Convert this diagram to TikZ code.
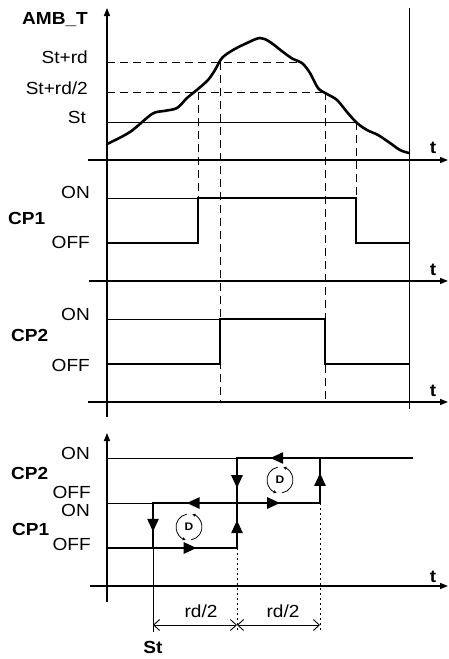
\documentclass[tikz,border=0pt]{standalone}
\usepackage{fontspec}
\setmainfont{Liberation Sans}[FakeStretch=1.09]
\usetikzlibrary{arrows.meta,decorations.markings}
\begin{document}
\begin{tikzpicture}[x=1pt,y=-1pt,
  axis/.style={line width=1.5pt},
  axarrow/.style={axis,-{Triangle[length=8pt,width=6pt]}},
  thinln/.style={line width=0.6pt},
  sig/.style={line width=2.6pt,line cap=rect},
  dashv/.style={line width=0.8pt,dash pattern=on 8pt off 5pt},
  dotv/.style={line width=0.8pt,dash pattern=on 2pt off 3pt},
  lbl/.style={font=\fontsize{17.5}{17.5}\selectfont,anchor=east,inner sep=0pt},
  blbl/.style={font=\bfseries\fontsize{17.5}{17.5}\selectfont,inner sep=0pt},
  tlbl/.style={font=\bfseries\fontsize{17.5}{17.5}\selectfont,inner sep=0pt},
  marr/.style={postaction={decorate},decoration={markings,
     mark=at position #1 with {\arrow{Triangle[length=13pt,width=11pt]}}}},
  dim/.style={line width=0.9pt,{Straight Barb[length=6pt,width=11pt]}-{Straight Barb[length=6pt,width=11pt]}},
  dtxt/.style={font=\bfseries\fontsize{11}{11}\selectfont,inner sep=0pt},
  darc/.style={line width=0.8pt,-{Triangle[length=3pt,width=3pt]}}
]
\useasboundingbox (0,0) rectangle (448,659);

% ---------- axes ----------
\coordinate (yTop) at (107,8);
\coordinate (yBot) at (107,417);
\coordinate (rTop) at (409,8);
\coordinate (rBot) at (409,409);
\draw[axarrow] (yBot) -- (yTop);
\draw[thinln] (rTop) -- (rBot);
\coordinate (a1l) at (88,160);  \coordinate (a1r) at (448,160);
\coordinate (a2l) at (89,281);  \coordinate (a2r) at (448,281);
\coordinate (a3l) at (88,402);  \coordinate (a3r) at (448,402);
\draw[axarrow] (a1l) -- (a1r);
\draw[axarrow] (a2l) -- (a2r);
\draw[axarrow] (a3l) -- (a3r);
\node[tlbl] (t1) at (433,148) {t};
\node[tlbl] (t2) at (433,270) {t};
\node[tlbl] (t3) at (433,391) {t};

% ---------- top panel ----------
\node[blbl] (amb) at (55,20) {AMB\_T};
\node[lbl] (lrd) at (88,57) {St+rd};
\node[lbl] (lrd2) at (88,88) {St+rd/2};
\node[lbl] (lst) at (86,117) {St};
\coordinate (hrdL) at (107,62);  \coordinate (hrdR) at (302,62);
\coordinate (hrd2L) at (107,92); \coordinate (hrd2R) at (325,92);
\coordinate (hstL) at (107,122); \coordinate (hstR) at (356,122);
\draw[dashv] (hrdL) -- (hrdR);
\draw[dashv] (hrd2L) -- (hrd2R);
\draw[thinln] (hstL) -- (hstR);
\draw[line width=2.6pt,line join=round,line cap=round] plot[smooth,tension=0.55] coordinates {
 (107,144) (130,132) (152,114) (164,111) (177,108) (187,98) (198,89) (208,80)
 (215,70) (222,58) (233,50) (247,43) (260,38) (270,42) (283,52) (293,59)
 (302,63) (310,73) (318,88) (327,94) (337,100) (347,112) (357,123) (367,130)
 (378,135) (390,143) (400,150) (409,153)};

% vertical dashed guides
\coordinate (v1a) at (198,92);  \coordinate (v1b) at (198,198);
\coordinate (v2a) at (220,62);  \coordinate (v2b) at (220,402);
\coordinate (v3a) at (325,92);  \coordinate (v3b) at (325,402);
\coordinate (v4a) at (356,122); \coordinate (v4b) at (356,198);
\draw[dashv] (v1a) -- (v1b);
\draw[dashv] (v2a) -- (v2b);
\draw[dashv] (v3a) -- (v3b);
\draw[dashv] (v4a) -- (v4b);

% ---------- CP1 panel ----------
\node[lbl] (c1on) at (90,192) {ON};
\node[blbl,anchor=west] (c1) at (8,218) {CP1};
\node[lbl] (c1off) at (90,242) {OFF};
\coordinate (c1onL) at (107,198);
\draw[thinln] (c1onL) -- (v1b);
\draw[line width=2.6pt] (107,243) -- (198,243) -- (198,198) -- (356,198) -- (356,243) -- (409,243);

% ---------- CP2 panel ----------
\node[lbl] (c2on) at (90,314) {ON};
\node[blbl,anchor=west] (c2) at (11,335) {CP2};
\node[lbl] (c2off) at (90,365) {OFF};
\coordinate (c2onL) at (107,319);
\coordinate (c2onR) at (220,319);
\draw[thinln] (c2onL) -- (c2onR);
\draw[line width=2.6pt] (107,364) -- (220,364) -- (220,319) -- (325,319) -- (325,364) -- (409,364);

% ---------- bottom panel ----------
\coordinate (byTop) at (107,433);
\coordinate (byBot) at (107,602);
\draw[axarrow] (byBot) -- (byTop);
\coordinate (b4l) at (90,586); \coordinate (b4r) at (448,586);
\draw[axarrow] (b4l) -- (b4r);
\node[tlbl] (t4) at (433,577) {t};

\node[lbl] (bon2) at (90,453) {ON};
\node[blbl,anchor=west] (bcp2) at (11,473) {CP2};
\node[lbl] (boff2) at (91,492) {OFF};
\node[lbl] (bon1) at (90,510) {ON};
\node[blbl,anchor=west] (bcp1) at (12,529) {CP1};
\node[lbl] (boff1) at (91,544) {OFF};

\coordinate (L0) at (107,548);
\coordinate (L1) at (107,503);
\coordinate (L2) at (107,458);
\coordinate (S0) at (153,548);
\coordinate (S1) at (153,503);
\coordinate (M0) at (237,548);
\coordinate (M1) at (237,503);
\coordinate (M2) at (237,458);
\coordinate (R1) at (320,503);
\coordinate (R2) at (320,458);
\coordinate (E2) at (412,458);

\draw[thinln] (L2) -- (M2);
\draw[thinln] (L1) -- (S1);

\draw[sig,marr=0.69] (L0) -- (M0);
\draw[sig,marr=0.62] (M0) -- (M1);
\draw[sig,marr=0.60] (M1) -- (S1);
\draw[sig,marr=0.64] (S1) -- (S0);
\draw[sig,marr=0.52] (M1) -- (R1);
\draw[sig,marr=0.67] (R1) -- (R2);
\draw[sig,marr=0.60] (R2) -- (M2);
\draw[sig,marr=0.67] (M2) -- (M1);
\draw[sig] (R2) -- (E2);

% D symbols
\node[dtxt] (d1) at (189,527) {D};
\node[dtxt] (d2) at (280,480) {D};
\foreach \d in {d1,d2}{
  \draw[darc] (\d) ++(-100:13) arc[start angle=-100,end angle=-255,radius=13];
  \draw[darc] (\d) ++(80:13) arc[start angle=80,end angle=-75,radius=13];
}

% guides and dimensions
\coordinate (Sb) at (153,632);
\coordinate (Mb) at (237,632);
\coordinate (Rb) at (320,632);
\draw[thinln] (S0) -- (Sb);
\draw[dotv] (M0) -- (Mb);
\draw[dotv] (R1) -- (Rb);
\coordinate (dS) at (153,625);
\coordinate (dM) at (237,625);
\coordinate (dR) at (320,625);
\draw[dim] (dS) -- (dM);
\draw[dim] (dM) -- (dR);
\node[font=\fontsize{17.5}{17.5}\selectfont,inner sep=0pt] (rd1) at (201,611) {rd/2};
\node[font=\fontsize{17.5}{17.5}\selectfont,inner sep=0pt] (rd2) at (283,611) {rd/2};
\node[blbl] (stb) at (153,647) {St};
\end{tikzpicture}
\end{document}
